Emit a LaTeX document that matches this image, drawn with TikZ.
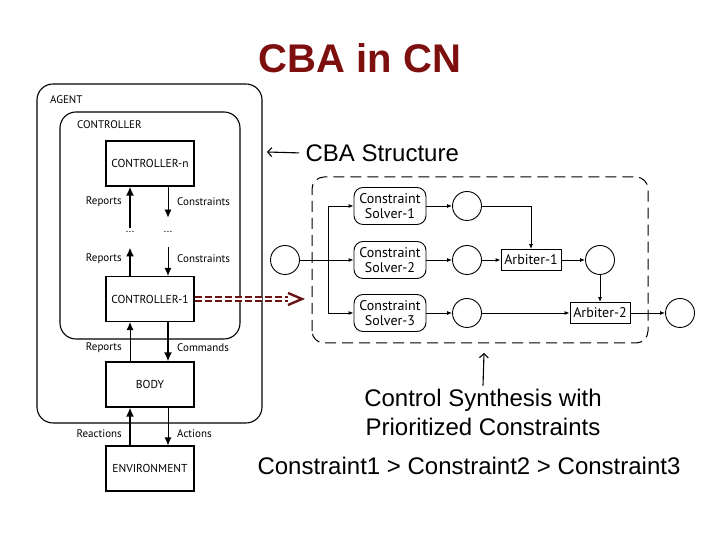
\documentclass[tikz,border=0pt]{standalone}
\usepackage{fontspec}
\setmainfont{Liberation Sans}
\newfontfamily\diagfont{PT Sans}
\usetikzlibrary{arrows.meta,calc,positioning,shapes}
\definecolor{cnred}{RGB}{125,15,15}
\definecolor{cnlink}{RGB}{105,20,20}
\tikzset{%
	block/.style    = {draw, rectangle, line width=1.1pt, minimum width=88pt, minimum height=45pt, font=\diagfont\fontsize{11.5}{13}\selectfont},
	frame/.style    = {draw, line width=1.1pt, rounded corners=16pt},
	tag/.style      = {inner sep=0pt, font=\diagfont\fontsize{11}{13}\selectfont}, % arrow labels
	solver/.style   = {draw, rectangle, rounded corners=9pt, line width=0.9pt, minimum width=72pt, minimum height=37pt, inner sep=1pt, align=center, font=\diagfont\fontsize{14}{15.5}\selectfont},
	arbiter/.style  = {draw, rectangle, line width=0.9pt, minimum width=60pt, minimum height=21pt, inner sep=1pt, font=\diagfont\fontsize{14}{15}\selectfont},
	state/.style    = {draw, circle, line width=0.9pt, minimum size=29pt, inner sep=0pt},
	heavy/.style    = {line width=2.2pt, -{Latex[length=9pt,width=8pt]}},
	light/.style    = {line width=0.9pt, -{Latex[length=8pt,width=7pt]}},
	flow/.style     = {line width=0.9pt, -{Latex[length=5pt,width=4pt]}},
	callout/.style  = {line width=1.1pt, -{Straight Barb[length=4pt,width=9pt]}},
	redlink/.style  = {cnlink, line width=2.4pt, double distance=1.4pt, dash pattern=on 7pt off 3pt},
}

\begin{document}
\begin{tikzpicture}[x=1pt,y=1pt]
	\useasboundingbox (0,0) rectangle (720,540);
	\node [text=cnred, font=\bfseries\fontsize{40}{48}\selectfont] (title) at (360,482) {CBA in CN};
	
	% agent hierarchy
	\draw [frame] (37,117) rectangle (262,456);
	\draw [frame] (60,201) rectangle (240,428);
	\node [tag, anchor=west] (agent) at (50,440) {AGENT};
	\node [tag, anchor=west] (ctrl) at (77,415) {CONTROLLER};
	
	\node [block] (env) at (150,71.5) {ENVIRONMENT};
	\node [block] (body) [above of=env, node distance=84pt] {BODY};
	\node [block] (ctrl1) [above of=body, node distance=85.5pt] {CONTROLLER-1};
	\node [block] (ctrln) [above of=ctrl1, node distance=135.5pt] {CONTROLLER-n};
	
	\coordinate (uprep) at ($(ctrln.south)+(-20,-41)$);
	\coordinate (upcon) at ($(ctrln.south)+(18,-31)$);
	\coordinate (lorep) at ($(ctrl1.north)+(-20,28.5)$);
	\coordinate (locon) at ($(ctrl1.north)+(18,28.5)$);
	\node [tag] (dotl) at (130,308) {...};
	\node [tag] (dotr) at (168,308) {...};
	
	\draw [heavy] (uprep) -- ([xshift=-20pt]ctrln.south);
	\draw [light] ([xshift=18pt]ctrln.south) -- (upcon);
	\draw [heavy] ([xshift=-20pt]ctrl1.north) -- (lorep);
	\draw [light] (locon) -- ([xshift=18pt]ctrl1.north);
	\draw [light] ([xshift=-20pt]body.north) -- ([xshift=-20pt]ctrl1.south);
	\draw [heavy] ([xshift=18pt]ctrl1.south) -- ([xshift=18pt]body.north);
	\draw [heavy] ([xshift=-20pt]env.north) -- ([xshift=-20pt]body.south);
	\draw [light] ([xshift=18pt]body.south) -- ([xshift=18pt]env.north);
	
	\node [tag, anchor=east] (rep1) at (122,338) {Reports};
	\node [tag, anchor=west] (con1) at (177,338) {Constraints};
	\node [tag, anchor=east] (rep2) at (122,281) {Reports};
	\node [tag, anchor=west] (con2) at (177,281) {Constraints};
	\node [tag, anchor=east] (rep3) at (122,192) {Reports};
	\node [tag, anchor=west] (cmd) at (177,192) {Commands};
	\node [tag, anchor=east] (react) at (122,106) {Reactions};
	\node [tag, anchor=west] (act) at (177,106) {Actions};
	
	% CBA structure
	\node [anchor=west, font=\fontsize{24}{28}\selectfont] (cbalbl) at (302,387) {CBA Structure};
	\coordinate (cbatip) at (267,388);
	\draw [callout, shorten <=3pt] (cbalbl.west) -- (cbatip);
	
	\draw [line width=1pt, dash pattern=on 11pt off 6pt, rounded corners=12pt] (312,197) rectangle (648,363);
	\node [state] (src) at (285,280) {};
	\node [solver] (sol2) at (390,280) {Constraint\\Solver-2};
	\node [solver] (sol1) [above of=sol2, node distance=54pt] {Constraint\\Solver-1};
	\node [solver] (sol3) [below of=sol2, node distance=53pt] {Constraint\\Solver-3};
	\node [state] (st1) [right of=sol1, node distance=77pt] {};
	\node [state] (st2) [right of=sol2, node distance=77pt] {};
	\node [state] (st3) [right of=sol3, node distance=77pt] {};
	\node [arbiter] (arb1) [right of=st2, node distance=64pt] {Arbiter-1};
	\node [state] (st4) [right of=arb1, node distance=69pt] {};
	\node [arbiter] (arb2) [below of=st4, node distance=53pt] {Arbiter-2};
	\node [state] (dst) [right of=arb2, node distance=80pt] {};
	\coordinate (fork) at (328,280);
	
	\draw [flow] (src) -- (sol2);
	\draw [flow] (fork) |- (sol1);
	\draw [flow] (fork) |- (sol3);
	\draw [flow] (sol1) -- (st1);
	\draw [flow] (sol2) -- (st2);
	\draw [flow] (sol3) -- (st3);
	\draw [flow] (st1) -| (arb1);
	\draw [flow] (st2) -- (arb1);
	\draw [flow] (arb1) -- (st4);
	\draw [flow] (st4) -- (arb2);
	\draw [flow] (st3) -- (arb2);
	\draw [flow] (arb2) -- (dst);
	
	% link from CONTROLLER-1
	\coordinate (hint) at (302,241);
	\coordinate (hintend) at (288,241);
	\draw [redlink] (ctrl1) -- (hintend);
	\draw [cnlink, line width=2.4pt] ($(hint)+(-14,6)$) -- (hint) -- ($(hint)+(-14,-6)$);
	
	% synthesis note
	\node [align=center, font=\fontsize{24}{29}\selectfont] (synth) at (483,127.5) {Control Synthesis with\\Prioritized Constraints};
	\coordinate (synthtip) at (484,187);
	\draw [callout] (synth.north) -- (synthtip);
	\node [font=\fontsize{24}{28}\selectfont] (order) at (469,74) {Constraint1 > Constraint2 > Constraint3};
\end{tikzpicture}
\end{document}
